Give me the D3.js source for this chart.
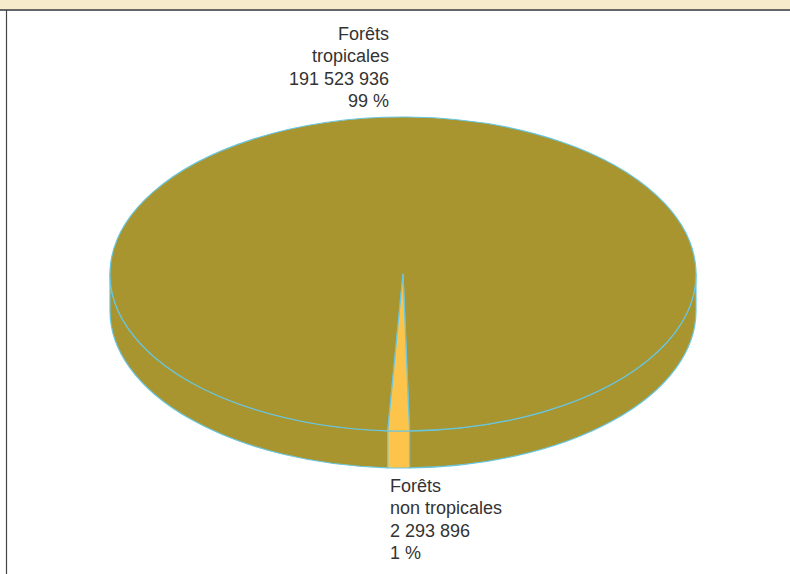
<!DOCTYPE html>
<html>
<head>
<meta charset="utf-8">
<script src="https://cdn.jsdelivr.net/npm/d3@7"></script>
<style>
  html, body { margin: 0; padding: 0; background: #fff; }
  svg { display: block; }
</style>
</head>
<body>
<svg id="chart" width="790" height="574"></svg>
<script>
// ---- data ----
const categories = ["Forêts tropicales", "Forêts non tropicales"];
const labelLines = [["Forêts", "tropicales"], ["Forêts", "non tropicales"]];
const values = [191523936, 2293896];
const colors = ["#a89530", "#fdc44c"];

// ---- layout ----
const W = 790, H = 574;
const cx = 403, cy = 274, rx = 293, ry = 157, depth = 37;
const stroke = "#68c6df";

const svg = d3.select("#chart");

// header band and frame
svg.append("rect").attr("x", 0).attr("y", 0).attr("width", W).attr("height", 10).attr("fill", "#f6ebcb");
svg.append("line").attr("x1", 0).attr("x2", W).attr("y1", 10).attr("y2", 10).attr("stroke", "#666").attr("stroke-width", 2);
svg.append("line").attr("x1", 6.5).attr("x2", 6.5).attr("y1", 10).attr("y2", H).attr("stroke", "#444").attr("stroke-width", 1.2);

const total = d3.sum(values);
const pie = d3.pie().sort(null).value(d => d)
  .startAngle(-Math.PI + 0.052).endAngle(Math.PI + 0.052);
const arcs = pie(values);

const px = a => cx + rx * Math.sin(a);
const py = a => cy - ry * Math.cos(a);

function topPath(a0, a1) {
  const large = (a1 - a0) > Math.PI ? 1 : 0;
  return `M${cx},${cy} L${px(a0)},${py(a0)} A${rx},${ry} 0 ${large} 1 ${px(a1)},${py(a1)} Z`;
}
function wallPath(a0, a1) {
  const large = (a1 - a0) > Math.PI ? 1 : 0;
  return `M${px(a0)},${py(a0)} A${rx},${ry} 0 ${large} 1 ${px(a1)},${py(a1)}` +
         ` L${px(a1)},${py(a1) + depth} A${rx},${ry} 0 ${large} 0 ${px(a0)},${py(a0) + depth} Z`;
}
// visible front wall intervals: [pi/2, 3pi/2] (+2pi k)
function wallSegments(a0, a1) {
  const segs = [];
  for (let k = -2; k <= 2; k++) {
    const lo = Math.max(a0, Math.PI / 2 + 2 * Math.PI * k);
    const hi = Math.min(a1, 3 * Math.PI / 2 + 2 * Math.PI * k);
    if (hi > lo) segs.push([lo, hi]);
  }
  return segs;
}

const gWalls = svg.append("g");
arcs.forEach((d, i) => {
  wallSegments(d.startAngle, d.endAngle).forEach(s => {
    gWalls.append("path").attr("d", wallPath(s[0], s[1]))
      .attr("fill", colors[i]).attr("stroke", stroke).attr("stroke-width", 1.2)
      .attr("stroke-linejoin", "round");
  });
});

const gTops = svg.append("g");
arcs.forEach((d, i) => {
  gTops.append("path").attr("d", topPath(d.startAngle, d.endAngle))
    .attr("fill", colors[i]).attr("stroke", stroke).attr("stroke-width", 1.2)
    .attr("stroke-linejoin", "round");
});

// ---- labels ----
const fr = d3.formatLocale({ decimal: ",", thousands: " ", grouping: [3], currency: ["", " €"] });
const fmt = fr.format(",d");
const lineH = 22.4;
const labelPos = [
  { x: cx - 14, y: 40, anchor: "end" },
  { x: cx - 13, y: 492, anchor: "start" }
];
arcs.forEach((d, i) => {
  const lines = labelLines[i].concat([fmt(values[i]), Math.round(values[i] / total * 100) + " %"]);
  const t = svg.append("text")
    .attr("text-anchor", labelPos[i].anchor)
    .attr("font-family", "'Liberation Sans', Arial, Helvetica, sans-serif")
    .attr("font-size", 18).attr("fill", "#333");
  lines.forEach((ln, j) => {
    t.append("tspan").attr("x", labelPos[i].x).attr("y", labelPos[i].y + j * lineH).text(ln);
  });
});
</script>
</body>
</html>
